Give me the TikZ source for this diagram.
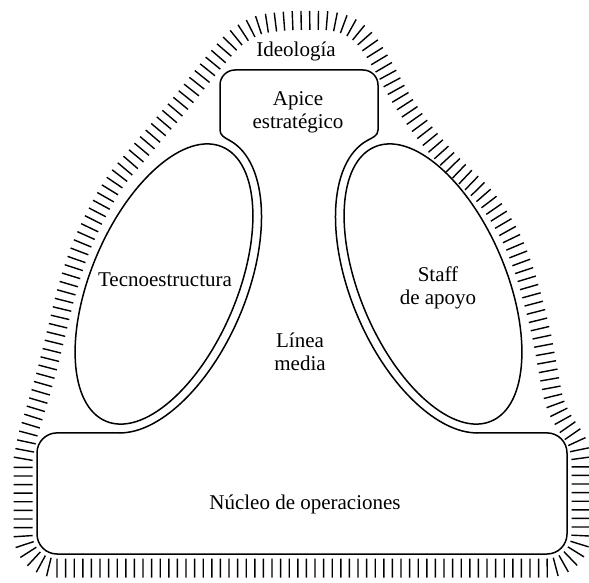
\documentclass[tikz,border=0pt]{standalone}
\usepackage{fontspec}
\setmainfont{Liberation Serif}
\usetikzlibrary{decorations.pathreplacing}
\begin{document}
\begin{tikzpicture}[x=1pt,y=1pt,
  lbl/.style={font=\fontsize{21}{23}\selectfont, align=center, inner sep=0pt},
  hatch/.style={decorate, decoration={ticks, segment length=8.6pt, amplitude=9.5pt}, line width=1.4pt},
  contour/.style={line width=1.5pt, line cap=round, line join=round}]
\useasboundingbox (0,0) rectangle (589,582);

% hatched border (ideology)
\draw[hatch] (57,14) -- (547,14) arc[start angle=-90,end angle=0,radius=34] -- (581,122)
  -- plot[smooth, tension=0.6] coordinates {(581,122) (579,134) (575,144) (563,162) (554,182) (548,212) (541,249) (530,292) (520,323) (507,352) (485,385) (451,419) (425,449) (402,482) (383,516) (366,542) (350,555) (330,561) (300,561.5) (276,560) (256,556) (236,544) (219,526) (201,504) (181,479) (159,453) (137,427) (115,400) (96,367) (80,332) (67,292) (57,252) (47,212) (37,177) (28,147) (23,122)}
  -- (23,48) arc[start angle=180,end angle=270,radius=34] -- cycle;

% operating core
\draw[contour] (120,149.1) -- (57,149.1) arc[start angle=90,end angle=180,radius=20]
  -- (37,48) arc[start angle=180,end angle=270,radius=20]
  -- (547,28) arc[start angle=-90,end angle=0,radius=20]
  -- (567,129.1) arc[start angle=0,end angle=90,radius=20] -- (477,149.1);

% strategic apex
\draw[contour] (229.6,441.6) to[out=151.2,in=-90] (220,452) -- (220,497)
  arc[start angle=180,end angle=90,radius=15] -- (363,512)
  arc[start angle=90,end angle=0,radius=15] -- (378,452)
  to[out=-90,in=28.8] (367.4,441.6);

% middle line borders
\draw[contour, shift={(164,298)}, rotate=67] (-3:158 and 82)
  arc[start angle=-3, end angle=-167.58, x radius=158, y radius=82];
\draw[contour, shift={(433,298)}, rotate=113] (3:158 and 82)
  arc[start angle=3, end angle=167.58, x radius=158, y radius=82];

% technostructure and support staff
\draw[contour, shift={(164,298)}, rotate=67] (0,0) ellipse[x radius=149, y radius=73];
\draw[contour, shift={(433,298)}, rotate=113] (0,0) ellipse[x radius=149, y radius=73];

% labels
\node[lbl] (ideo) at (296,531) {Ideología};
\node[lbl] (apex) at (298,470) {Apice\\estratégico};
\node[lbl] (tecno) at (165,302) {Tecnoestructura};
\node[lbl] (staff) at (438,294) {Staff\\de apoyo};
\node[lbl] (linea) at (300,230) {Línea\\media};
\node[lbl] (nucleo) at (305,78) {Núcleo de operaciones};
\end{tikzpicture}
\end{document}
